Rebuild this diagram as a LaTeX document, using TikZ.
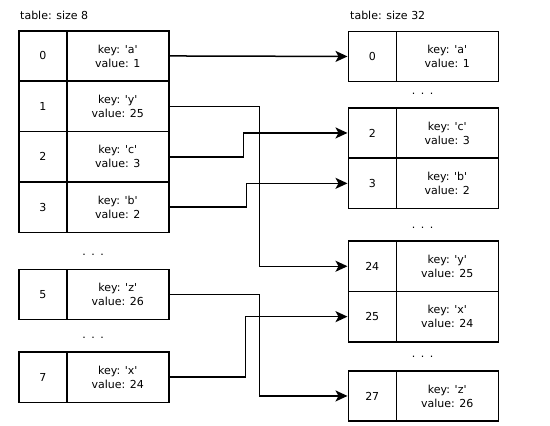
\documentclass[tikz,border=0pt]{standalone}
\usepackage{fontspec}
\setmainfont{DejaVu Sans}
\usetikzlibrary{arrows.meta}
\newcommand{\sq}{\textquotesingle}
\begin{document}
\begin{tikzpicture}[x=1pt,y=-1pt, font=\fontsize{11}{14}\selectfont,
  cell/.style={draw, line width=1.5pt, anchor=north west, inner sep=0pt, minimum height=50.4pt, align=center},
  idx/.style={cell, minimum width=48pt},
  val/.style={cell, minimum width=102pt},
  link/.style={line width=1.5pt, -{Stealth[length=12pt,width=11pt,inset=3pt]}},
  gap/.style={inner sep=0pt, anchor=base},
  title/.style={inner sep=0pt, anchor=base west}]
\useasboundingbox (0,0) rectangle (550,426);
% titles
\node[title] (tl) at (20,19.3) {table: size 8};
\node[title] (tr) at (350,19.3) {table: size 32};
% left table
\node[idx] (L0i) at (18,30) {0};
\node[val] (L0v) at (66,30) {key: \sq a\sq\\value: 1};
\node[idx] (L1i) at (18,80.4) {1};
\node[val] (L1v) at (66,80.4) {key: \sq y\sq\\value: 25};
\node[idx] (L2i) at (18,130.8) {2};
\node[val] (L2v) at (66,130.8) {key: \sq c\sq\\value: 3};
\node[idx] (L3i) at (18,181.2) {3};
\node[val] (L3v) at (66,181.2) {key: \sq b\sq\\value: 2};
\node[gap] (Ld1) at (93,255) {.\hspace{5.5pt}.\hspace{5.5pt}.};
\node[idx] (L5i) at (18,268.5) {5};
\node[val] (L5v) at (66,268.5) {key: \sq z\sq\\value: 26};
\node[gap] (Ld2) at (93,338) {.\hspace{5.5pt}.\hspace{5.5pt}.};
\node[idx] (L7i) at (18,351.2) {7};
\node[val] (L7v) at (66,351.2) {key: \sq x\sq\\value: 24};
% right table
\node[idx] (R0i) at (347.5,30.5) {0};
\node[val] (R0v) at (395.5,30.5) {key: \sq a\sq\\value: 1};
\node[gap] (Rd1) at (422.5,94) {.\hspace{5.5pt}.\hspace{5.5pt}.};
\node[idx] (R2i) at (347.5,107) {2};
\node[val] (R2v) at (395.5,107) {key: \sq c\sq\\value: 3};
\node[idx] (R3i) at (347.5,157.4) {3};
\node[val] (R3v) at (395.5,157.4) {key: \sq b\sq\\value: 2};
\node[gap] (Rd2) at (422.5,228) {.\hspace{5.5pt}.\hspace{5.5pt}.};
\node[idx] (R24i) at (347.5,240.3) {24};
\node[val] (R24v) at (395.5,240.3) {key: \sq y\sq\\value: 25};
\node[idx] (R25i) at (347.5,290.7) {25};
\node[val] (R25v) at (395.5,290.7) {key: \sq x\sq\\value: 24};
\node[gap] (Rd3) at (422.5,357) {.\hspace{5.5pt}.\hspace{5.5pt}.};
\node[idx] (R27i) at (347.5,370) {27};
\node[val] (R27v) at (395.5,370) {key: \sq z\sq\\value: 26};
% connectors
\draw[link] (L0v.east) -- (R0i.west);
\draw[link] (L1v.east) -- ++(90,0) |- (R24i.west);
\draw[link] (L2v.east) -- ++(74,0) |- (R2i.west);
\draw[link] (L3v.east) -- ++(77,0) |- (R3i.west);
\draw[link] (L5v.east) -- ++(90,0) |- (R27i.west);
\draw[link] (L7v.east) -- ++(76,0) |- (R25i.west);
\end{tikzpicture}
\end{document}
